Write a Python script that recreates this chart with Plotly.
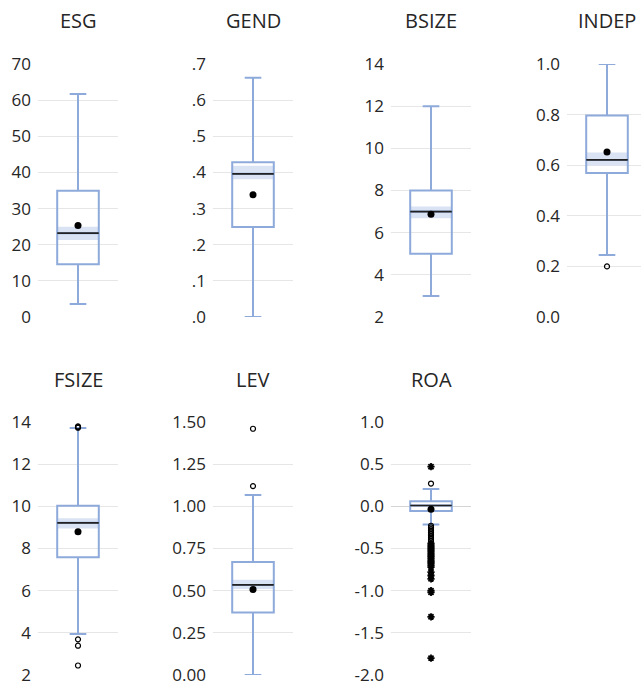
import plotly.graph_objects as go

# ---------------- data ----------------
VARS = ["ESG", "GEND", "BSIZE", "INDEP", "FSIZE", "LEV", "ROA"]
Q1 = [14.6, 0.249, 5.0, 0.569, 7.59, 0.370, -0.055]
MEDIAN = [23.2, 0.396, 7.0, 0.621, 9.22, 0.534, 0.010]
Q3 = [34.9, 0.428, 8.0, 0.796, 10.03, 0.670, 0.060]
LOWER_WHISKER = [3.6, 0.0, 3.0, 0.245, 3.94, 0.0, -0.216]
UPPER_WHISKER = [61.7, 0.662, 12.0, 1.0, 13.71, 1.067, 0.205]
MEAN = [25.3, 0.338, 6.87, 0.652, 8.79, 0.507, -0.035]
MEDIAN_CI_LOW = [21.3, 0.381, 6.68, 0.598, 8.95, 0.510, 0.000]
MEDIAN_CI_HIGH = [25.0, 0.4185, 7.24, 0.650, 9.44, 0.564, 0.020]

NEAR_OUTLIERS = {
    "ESG": [], "GEND": [], "BSIZE": [],
    "INDEP": [0.20],
    "FSIZE": [13.73, 13.76, 13.79, 3.69, 3.39, 2.45],
    "LEV": [1.12, 1.46],
    "ROA": [0.27, -0.23, -0.25, -0.27, -0.29, -0.31, -0.33, -0.35, -0.37, -0.39, -0.41],
}
FAR_OUTLIERS = {
    "ESG": [], "GEND": [], "BSIZE": [], "INDEP": [], "FSIZE": [], "LEV": [],
    "ROA": [0.47, -0.44, -0.46, -0.48, -0.50, -0.52, -0.54, -0.56, -0.58, -0.60,
            -0.62, -0.64, -0.66, -0.68, -0.70, -0.72, -0.78, -0.82, -0.86,
            -1.00, -1.02, -1.31, -1.80],
}

Y_RANGES = [[0, 70], [0, 0.7], [2, 14], [0, 1.0], [2, 14], [0, 1.5], [-2.0, 1.0]]
TICK_VALS = [
    [0, 10, 20, 30, 40, 50, 60, 70],
    [0, 0.1, 0.2, 0.3, 0.4, 0.5, 0.6, 0.7],
    [2, 4, 6, 8, 10, 12, 14],
    [0, 0.2, 0.4, 0.6, 0.8, 1.0],
    [2, 4, 6, 8, 10, 12, 14],
    [0, 0.25, 0.5, 0.75, 1.0, 1.25, 1.5],
    [-2.0, -1.5, -1.0, -0.5, 0.0, 0.5, 1.0],
]
TICK_TEXT = [
    ["0", "10", "20", "30", "40", "50", "60", "70"],
    [".0", ".1", ".2", ".3", ".4", ".5", ".6", ".7"],
    ["2", "4", "6", "8", "10", "12", "14"],
    ["0.0", "0.2", "0.4", "0.6", "0.8", "1.0"],
    ["2", "4", "6", "8", "10", "12", "14"],
    ["0.00", "0.25", "0.50", "0.75", "1.00", "1.25", "1.50"],
    ["-2.0", "-1.5", "-1.0", "-0.5", "0.0", "0.5", "1.0"],
]

# ---------------- layout / style ----------------
W, H = 641, 686
COL_PX = [(38, 118), (213, 293), (391, 471), (567, 641)]
ROW_PX = [(64, 317), (422, 675)]
BOX_W = 0.52
WHISKER_W = 0.4
BOX_COLOR = "#8eaadb"
CI_COLOR = "#dae3f3"
GRID_COLOR = "#e6e6e6"
TEXT_COLOR = "#262626"
FONT = "Open Sans"

fig = go.Figure()
layout = dict(
    template="none",
    width=W, height=H, margin=dict(l=0, r=0, t=0, b=0, pad=0, autoexpand=False),
    paper_bgcolor="white", plot_bgcolor="white",
    showlegend=False, boxmode="overlay", barmode="overlay",
    font=dict(family=FONT, color=TEXT_COLOR),
)
annotations = []

for i, name in enumerate(VARS):
    r, c = divmod(i, 4)
    n = i + 1
    xa = "x" if n == 1 else f"x{n}"
    ya = "y" if n == 1 else f"y{n}"
    x0p, x1p = COL_PX[c]
    y0p, y1p = ROW_PX[r]
    # x range: 80px per unit, box centred 40px from the left edge
    xr = [-0.5, -0.5 + (x1p - x0p) / 80.0]

    layout[f"xaxis{n if n > 1 else ''}"] = dict(
        domain=[x0p / W, x1p / W], range=xr, anchor=ya,
        showgrid=False, zeroline=False, showticklabels=False, showline=False,
        ticks="", automargin=False, fixedrange=True,
    )
    layout[f"yaxis{n if n > 1 else ''}"] = dict(
        domain=[1 - y1p / H, 1 - y0p / H], range=Y_RANGES[i], anchor=xa,
        tickvals=TICK_VALS[i], ticktext=TICK_TEXT[i],
        showgrid=True, gridcolor=GRID_COLOR, gridwidth=1,
        zeroline=(name == "ROA"), zerolinecolor="#d4d4d4", zerolinewidth=1,
        showline=False, ticks="", ticklabelstandoff=6, automargin=False,
        tickfont=dict(family=FONT, size=17, color=TEXT_COLOR),
        fixedrange=True,
    )

    # median confidence band
    fig.add_trace(go.Bar(
        x=[0], base=[MEDIAN_CI_LOW[i]], y=[MEDIAN_CI_HIGH[i] - MEDIAN_CI_LOW[i]],
        width=BOX_W, marker=dict(color=CI_COLOR, line=dict(width=0)),
        xaxis=xa, yaxis=ya, hoverinfo="skip",
    ))
    # box + whiskers
    fig.add_trace(go.Box(
        x=[0], q1=[Q1[i]], median=[MEDIAN[i]], q3=[Q3[i]],
        lowerfence=[LOWER_WHISKER[i]], upperfence=[UPPER_WHISKER[i]],
        width=BOX_W, whiskerwidth=WHISKER_W,
        line=dict(color=BOX_COLOR, width=2), fillcolor="rgba(0,0,0,0)",
        boxpoints=False, xaxis=xa, yaxis=ya, name=name,
    ))
    # median line
    fig.add_trace(go.Scatter(
        x=[-BOX_W / 2, BOX_W / 2], y=[MEDIAN[i], MEDIAN[i]], mode="lines",
        line=dict(color="#222222", width=1.7), xaxis=xa, yaxis=ya, hoverinfo="skip",
    ))
    # near outliers
    if NEAR_OUTLIERS[name]:
        fig.add_trace(go.Scatter(
            x=[0] * len(NEAR_OUTLIERS[name]), y=NEAR_OUTLIERS[name], mode="markers",
            marker=dict(symbol="circle-open", size=5, color="black", line=dict(width=1.2)),
            xaxis=xa, yaxis=ya,
        ))
    # far outliers
    if FAR_OUTLIERS[name]:
        fig.add_trace(go.Scatter(
            x=[0] * len(FAR_OUTLIERS[name]), y=FAR_OUTLIERS[name], mode="markers",
            marker=dict(symbol="asterisk-open", size=6, color="black", line=dict(width=1.8, color="black")),
            xaxis=xa, yaxis=ya,
        ))
    # mean
    fig.add_trace(go.Scatter(
        x=[0], y=[MEAN[i]], mode="markers",
        marker=dict(symbol="circle", size=7, color="black"),
        xaxis=xa, yaxis=ya,
    ))

    annotations.append(dict(
        text=name, xref=xa, x=0, yref=f"{ya} domain", y=1,
        yanchor="middle", yshift=44 if r == 0 else 43, showarrow=False,
        font=dict(family=FONT, size=20, color=TEXT_COLOR),
    ))

layout["annotations"] = annotations
fig.update_layout(**layout)
fig.write_html(
    "out.html",
    config={"displayModeBar": False, "staticPlot": True},
    post_script="document.body.style.margin='0';document.body.style.padding='0';"
                "document.documentElement.style.overflow='hidden';",
)
